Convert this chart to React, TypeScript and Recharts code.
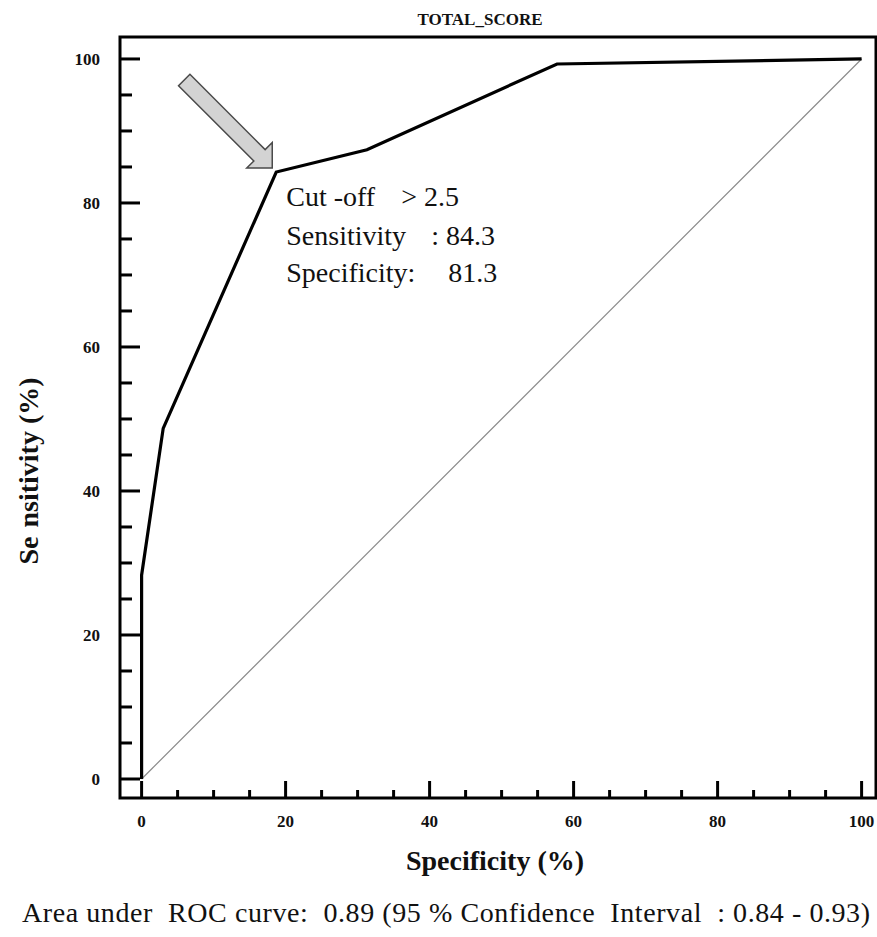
import React from 'react';
import { LineChart, Line, XAxis, YAxis, ReferenceArea, ReferenceDot } from 'recharts';

// ROC curve points (100 - specificity, sensitivity)
const rocFpr = [0, 0, 3.0, 18.7, 31.3, 57.7, 100];
const rocSens = [0, 28.3, 48.7, 84.3, 87.4, 99.3, 100];
// reference diagonal
const diagFpr = [0, 100];
const diagSens = [0, 100];
// ticks
const xTicks = [0, 5, 10, 15, 20, 25, 30, 35, 40, 45, 50, 55, 60, 65, 70, 75, 80, 85, 90, 95, 100];
const yTicks = [0, 5, 10, 15, 20, 25, 30, 35, 40, 45, 50, 55, 60, 65, 70, 75, 80, 85, 90, 95, 100];
const majorStep = 20;
const xDomain = [-3, 102];
const yDomain = [-2.64, 103.05];
// cut-off annotation
const cutFpr = 18.7;
const cutSens = 84.3;
const annotationLeft = ['Cut -off', 'Sensitivity', 'Specificity:'];
const annotationRight = ['> 2.5', ': 84.3', '81.3'];

const title = 'TOTAL_SCORE';
const xLabel = 'Specificity (%)';
const yLabelParts = ['Se', 'nsitivity (%)'];
const footer = 'Area under  ROC curve:  0.89 (95 % Confidence  Interval  : 0.84 - 0.93)';

const rocData = rocFpr.map((x, i) => ({ x, y: rocSens[i] }));
const diagData = diagFpr.map((x, i) => ({ x, y: diagSens[i] }));

const SERIF = "'Liberation Serif', Tinos, 'Times New Roman', serif";

const renderXTick = (props: any) => {
  const { x, y, payload } = props;
  const v = payload.value;
  const major = v % majorStep === 0;
  return (
    <g key={`xt-${v}`}>
      <line x1={x} x2={x} y1={y} y2={y - (major ? 17 : 8)} stroke="#000" strokeWidth={3} />
      {major && (
        <text x={x} y={y + 29} textAnchor="middle" fontSize={17} fontWeight="bold" fontFamily={SERIF} fill="#111">
          {v}
        </text>
      )}
    </g>
  );
};

const renderYTick = (props: any) => {
  const { x, y, payload } = props;
  const v = payload.value;
  const major = v % majorStep === 0;
  return (
    <g key={`yt-${v}`}>
      <line x1={x} x2={x + (major ? 20 : 12)} y1={y} y2={y} stroke="#000" strokeWidth={3} />
      {major && (
        <text x={x - 20} y={y + 6} textAnchor="end" fontSize={17} fontWeight="bold" fontFamily={SERIF} fill="#111">
          {v}
        </text>
      )}
    </g>
  );
};

const CutoffMarker = (props: any) => {
  const { cx, cy } = props;
  const tx = cx - 4;
  const ty = cy - 4;
  const pts = [
    [0, 0],
    [0, -25.5],
    [-7.1, -18.4],
    [-82.3, -93.7],
    [-93.7, -82.3],
    [-18.4, -7.1],
    [-25.5, 0],
  ]
    .map(([dx, dy]) => `${tx + dx},${ty + dy}`)
    .join(' ');
  const rightOffsets = [115, 145, 162];
  const baselines = [34, 73, 110];
  return (
    <g>
      <polygon points={pts} fill="#d3d3d3" stroke="#4a4a4a" strokeWidth={1.5} strokeLinejoin="miter" />
      {annotationLeft.map((t, i) => (
        <g key={i}>
          <text x={cx + 10} y={cy + baselines[i]} fontSize={28} fontFamily={SERIF} fill="#111">
            {t}
          </text>
          <text x={cx + 10 + rightOffsets[i]} y={cy + baselines[i]} fontSize={28} fontFamily={SERIF} fill="#111">
            {annotationRight[i]}
          </text>
        </g>
      ))}
    </g>
  );
};

export default function App() {
  return (
    <div style={{ position: 'absolute', left: 0, top: 0, width: 877, height: 937, background: '#fff' }}>
      <LineChart
        width={877}
        height={937}
        margin={{ top: 37, right: 1, bottom: 99, left: 60 }}
      >
        <XAxis
          type="number"
          dataKey="x"
          domain={xDomain}
          allowDataOverflow
          ticks={xTicks}
          interval={0}
          height={40}
          tickSize={0}
          tickMargin={0}
          axisLine={false}
          tickLine={false}
          tick={renderXTick}
        />
        <YAxis
          type="number"
          dataKey="y"
          domain={yDomain}
          allowDataOverflow
          ticks={yTicks}
          interval={0}
          width={60}
          tickSize={0}
          tickMargin={0}
          axisLine={false}
          tickLine={false}
          tick={renderYTick}
        />
        <ReferenceArea
          x1={xDomain[0]}
          x2={xDomain[1]}
          y1={yDomain[0]}
          y2={yDomain[1]}
          fill="none"
          fillOpacity={0}
          stroke="#000"
          strokeWidth={3}
          ifOverflow="visible"
        />
        <Line
          data={diagData}
          dataKey="y"
          type="linear"
          stroke="#8a8a8a"
          strokeWidth={1.2}
          dot={false}
          isAnimationActive={false}
        />
        <Line
          data={rocData}
          dataKey="y"
          type="linear"
          stroke="#000"
          strokeWidth={3.2}
          strokeLinejoin="miter"
          dot={false}
          isAnimationActive={false}
        />
        <ReferenceDot x={cutFpr} y={cutSens} r={0} shape={<CutoffMarker />} ifOverflow="visible" />
      </LineChart>
      <svg
        width={877}
        height={937}
        style={{ position: 'absolute', left: 0, top: 0, pointerEvents: 'none' }}
      >
        <text x={480} y={25} textAnchor="middle" fontSize={17} fontWeight="bold" fontFamily={SERIF} fill="#111">
          {title}
        </text>
        <text x={495} y={870} textAnchor="middle" fontSize={28} fontWeight="bold" fontFamily={SERIF} fill="#111">
          {xLabel}
        </text>
        <text
          x={38}
          y={471}
          textAnchor="middle"
          fontSize={28}
          fontWeight="bold"
          fontFamily={SERIF}
          fill="#111"
          transform="rotate(-90, 38, 471)"
        >
          {yLabelParts[0]}
          <tspan dx={9}>{yLabelParts[1]}</tspan>
        </text>
        <text
          x={22}
          y={922}
          fontSize={28}
          fontFamily={SERIF}
          fill="#111"
          textLength={848}
          lengthAdjust="spacing"
          style={{ whiteSpace: 'pre' }}
        >
          {footer}
        </text>
      </svg>
    </div>
  );
}
